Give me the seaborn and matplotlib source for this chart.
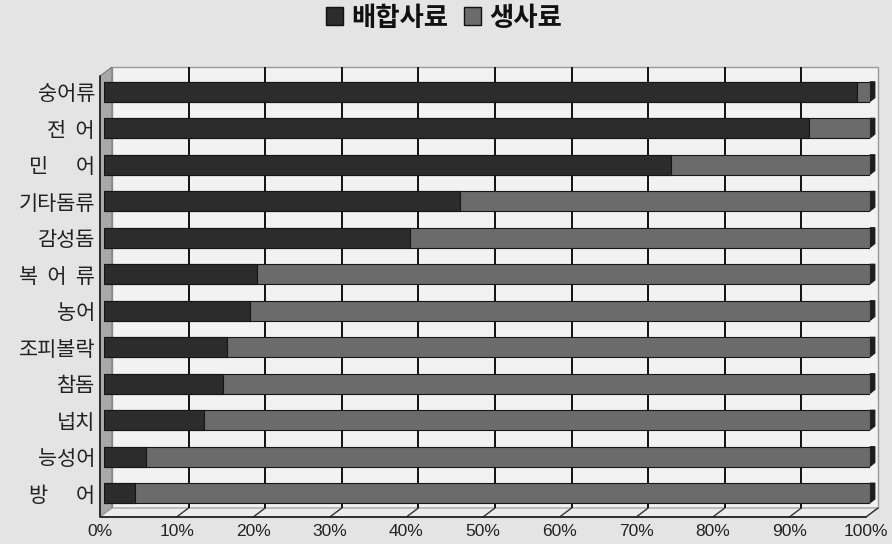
import matplotlib
matplotlib.use("Agg")
import matplotlib.pyplot as plt
import numpy as np
import pandas as pd
import seaborn as sns
from matplotlib.patches import Polygon, Rectangle, Patch
from matplotlib.transforms import ScaledTranslation

# Share of feed type by species (%)
species = ["숭어류", "전  어", "민      어", "기타돔류", "감성돔", "복  어  류",
           "농어", "조피볼락", "참돔", "넙치", "능성어", "방      어"]
formula_feed = [98.3, 92.0, 74.0, 46.5, 40.0, 20.0, 19.0, 16.0, 15.5, 13.0, 5.5, 4.0]
raw_feed = [1.7, 8.0, 26.0, 53.5, 60.0, 80.0, 81.0, 84.0, 84.5, 87.0, 94.5, 96.0]
series_names = ["배합사료", "생사료"]
x_ticks = [0, 10, 20, 30, 40, 50, 60, 70, 80, 90, 100]
x_tick_labels = [f"{v}%" for v in x_ticks]

df = pd.DataFrame({"species": species,
                   series_names[0]: formula_feed,
                   series_names[1]: raw_feed})
df["total"] = df[series_names[0]] + df[series_names[1]]

BG = "#e4e4e4"
WALL = "#f2f2f2"
SIDE = "#a8a8a8"
FLOOR = "#ececec"
FORM = "#2c2c2c"
RAW = "#6b6b6b"
EDGE = "#161616"
KFONT = ["Noto Sans CJK KR", "DejaVu Sans"]

sns.set_theme(style="white")
plt.rcParams["font.family"] = KFONT

W, H = 892, 544
fig = plt.figure(figsize=(W / 100, H / 100), dpi=100, facecolor=BG)

# pixel-space layer for the 3D box (walls, floor, grid)
bg = fig.add_axes([0, 0, 1, 1])
bg.set_xlim(0, W)
bg.set_ylim(H, 0)
bg.axis("off")

fx0, fx1 = 100, 866          # front plane, 0% .. 100%
dx, dy = 12, 9               # depth offset of the back wall
ftop, fbot = 76, 517
bx0, bx1 = fx0 + dx, fx1 + dx
btop, bbot = ftop - dy, fbot - dy
scale = (fx1 - fx0) / 100.0

bg.add_patch(Rectangle((bx0, btop), bx1 - bx0, bbot - btop,
                       facecolor=WALL, edgecolor="#9a9a9a", lw=1.0, zorder=1))
bg.add_patch(Polygon([(fx0, ftop), (bx0, btop), (bx0, bbot), (fx0, fbot)],
                     closed=True, facecolor=SIDE, edgecolor="#7a7a7a", lw=0.8, zorder=2))
bg.add_patch(Polygon([(fx0, fbot), (fx1, fbot), (bx1, bbot), (bx0, bbot)],
                     closed=True, facecolor=FLOOR, edgecolor="#9a9a9a", lw=0.8, zorder=2))
for v in x_ticks[1:-1]:
    gx = bx0 + v * scale
    bg.plot([gx, gx], [btop, bbot], color="#111111", lw=1.4, zorder=3,
            solid_capstyle="butt")
for v in x_ticks[1:]:
    bg.plot([bx0 + v * scale, fx0 + v * scale], [bbot, fbot],
            color="#333333", lw=1.0, zorder=3)
bg.plot([fx0, fx0, fx1], [ftop, fbot, fbot], color="#222222", lw=1.3, zorder=4)

# bar plane sits between the front and back planes
px0, px1 = 104, 870
ptop, pbot = 73, 514
ax = fig.add_axes([px0 / W, (H - pbot) / H, (px1 - px0) / W, (pbot - ptop) / H])
ax.patch.set_alpha(0)

bar_w = 0.55
sns.barplot(data=df, y="species", x="total", color=RAW, saturation=1,
            width=bar_w, edgecolor=EDGE, linewidth=0.8, orient="h", ax=ax)
sns.barplot(data=df, y="species", x=series_names[0], color=FORM, saturation=1,
            width=bar_w, edgecolor=EDGE, linewidth=0.8, orient="h", ax=ax)

ax.set_xlim(0, 100)
ax.set_ylim(11.575, -0.512)
ax.set_xlabel("")
ax.set_ylabel("")
for s in ax.spines.values():
    s.set_visible(False)
ax.set_xticks(x_ticks)
ax.set_xticklabels(x_tick_labels, family="Liberation Sans", fontsize=12.5, color="#222222")
ax.tick_params(axis="x", length=0, pad=7)
ax.tick_params(axis="y", length=0, pad=6.5)
for lbl in ax.get_yticklabels():
    lbl.set_fontsize(15)
    lbl.set_color("#222222")
    lbl.set_family(KFONT)
shift = ScaledTranslation(-4 / 100, 0, fig.dpi_scale_trans)
for lbl in ax.get_xticklabels():
    lbl.set_transform(lbl.get_transform() + shift)

# right end caps of the bars
for i, tot in enumerate(df["total"]):
    xe, yt = ax.transData.transform((tot, i - bar_w / 2))
    _, yb = ax.transData.transform((tot, i + bar_w / 2))
    yt, yb = H - yt, H - yb
    bg.add_patch(Polygon([(xe, yt), (xe + 5, yt), (xe + 5, yb - 4), (xe, yb)],
                         closed=True, facecolor="#1e1e1e", edgecolor="#1e1e1e",
                         lw=0.6, zorder=5))

handles = [Patch(facecolor=FORM, edgecolor="#111111"),
           Patch(facecolor=RAW, edgecolor="#111111")]
fig.legend(handles=handles, labels=series_names, loc="center",
           bbox_to_anchor=(444 / W, 1 - 18 / H), ncol=2, frameon=False,
           prop={"family": KFONT, "weight": "bold", "size": 19},
           handlelength=0.65, handleheight=0.65, handletextpad=0.3,
           columnspacing=0.6, labelcolor="#111111")

fig.savefig("out.png", dpi=100, facecolor=BG)
